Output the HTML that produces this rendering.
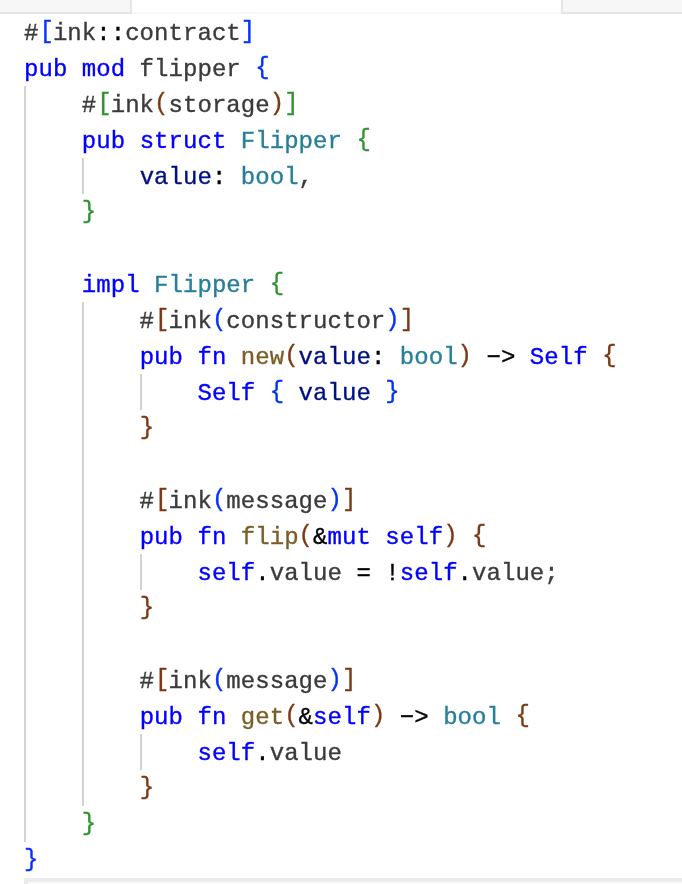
<!DOCTYPE html>
<html>
<head>
<meta charset="utf-8">
<style>
html, body { margin: 0; padding: 0; }
body { width: 682px; height: 884px; overflow: hidden; background: #ffffff; position: relative; }
.box { position: absolute; background: #f7f7f7; }
#tl { left: 0; top: 0; width: 130px; height: 12px; border-right: 2px solid #e5e5e5; border-bottom: 2px solid #e5e5e5; }
#tr { left: 561px; top: 0; width: 119px; height: 12px; border-left: 2px solid #e5e5e5; border-bottom: 2px solid #e5e5e5; }
#tline { position: absolute; left: 132px; top: 12px; width: 429px; height: 2px; background: #f8f8f8; }
#bot { position: absolute; left: 24px; top: 878px; width: 658px; height: 6px; background: #fafafa; box-shadow: inset 4px 4px 0 #ececec; }
.g { position: absolute; width: 2px; background: #d3d3d3; }
#code { position: absolute; left: 24px; top: 16px; margin: 0; padding: 0; font-family: "Liberation Mono", monospace; font-size: 24px; line-height: 36px; white-space: pre; color: #3b3b3b; letter-spacing: 0.05px; -webkit-text-stroke: 0.35px; will-change: transform; }
.k { color: #0000ff; }
.t { color: #267f99; }
.f { color: #795e26; }
.v { color: #001080; }
.b1 { color: #0431fa; }
.b2 { color: #319331; }
.b3 { color: #7b3814; }
.o { color: #000000; }
.b1, .b2, .b3 { position: relative; top: -2px; }
.lb { left: 1px; }
</style>
</head>
<body>
<div class="box" id="tl"></div>
<div id="tline"></div>
<div class="box" id="tr"></div>
<div class="g" style="left:24px;top:86px;height:756px"></div>
<div class="g" style="left:82px;top:158px;height:36px"></div>
<div class="g" style="left:82px;top:302px;height:504px"></div>
<div class="g" style="left:140px;top:374px;height:36px"></div>
<div class="g" style="left:140px;top:554px;height:36px"></div>
<div class="g" style="left:140px;top:734px;height:36px"></div>
<pre id="code">#<span class="b1 lb">[</span>ink<span class="o">::</span>contract<span class="b1">]</span>
<span class="k">pub</span> <span class="k">mod</span> flipper <span class="b1">{</span>
    #<span class="b2 lb">[</span>ink<span class="b3">(</span>storage<span class="b3">)</span><span class="b2">]</span>
    <span class="k">pub</span> <span class="k">struct</span> <span class="t">Flipper</span> <span class="b2">{</span>
        <span class="v">value</span><span class="o">:</span> <span class="t">bool</span>,
    <span class="b2">}</span>

    <span class="k">impl</span> <span class="t">Flipper</span> <span class="b2">{</span>
        #<span class="b3 lb">[</span>ink<span class="b1">(</span>constructor<span class="b1">)</span><span class="b3">]</span>
        <span class="k">pub</span> <span class="k">fn</span> <span class="f">new</span><span class="b3">(</span><span class="v">value</span><span class="o">:</span> <span class="t">bool</span><span class="b3">)</span> <span class="o">&#8722;&gt;</span> <span class="k">Self</span> <span class="b3">{</span>
            <span class="k">Self</span> <span class="b1">{</span> <span class="v">value</span> <span class="b1">}</span>
        <span class="b3">}</span>

        #<span class="b3 lb">[</span>ink<span class="b1">(</span>message<span class="b1">)</span><span class="b3">]</span>
        <span class="k">pub</span> <span class="k">fn</span> <span class="f">flip</span><span class="b3">(</span><span class="o">&amp;</span><span class="k">mut</span> <span class="k">self</span><span class="b3">)</span> <span class="b3">{</span>
            <span class="k">self</span><span class="o">.</span>value <span class="o">=</span> <span class="o">!</span><span class="k">self</span><span class="o">.</span>value;
        <span class="b3">}</span>

        #<span class="b3 lb">[</span>ink<span class="b1">(</span>message<span class="b1">)</span><span class="b3">]</span>
        <span class="k">pub</span> <span class="k">fn</span> <span class="f">get</span><span class="b3">(</span><span class="o">&amp;</span><span class="k">self</span><span class="b3">)</span> <span class="o">&#8722;&gt;</span> <span class="t">bool</span> <span class="b3">{</span>
            <span class="k">self</span><span class="o">.</span>value
        <span class="b3">}</span>
    <span class="b2">}</span>
<span class="b1">}</span></pre>
<div id="bot"></div>
</body>
</html>
